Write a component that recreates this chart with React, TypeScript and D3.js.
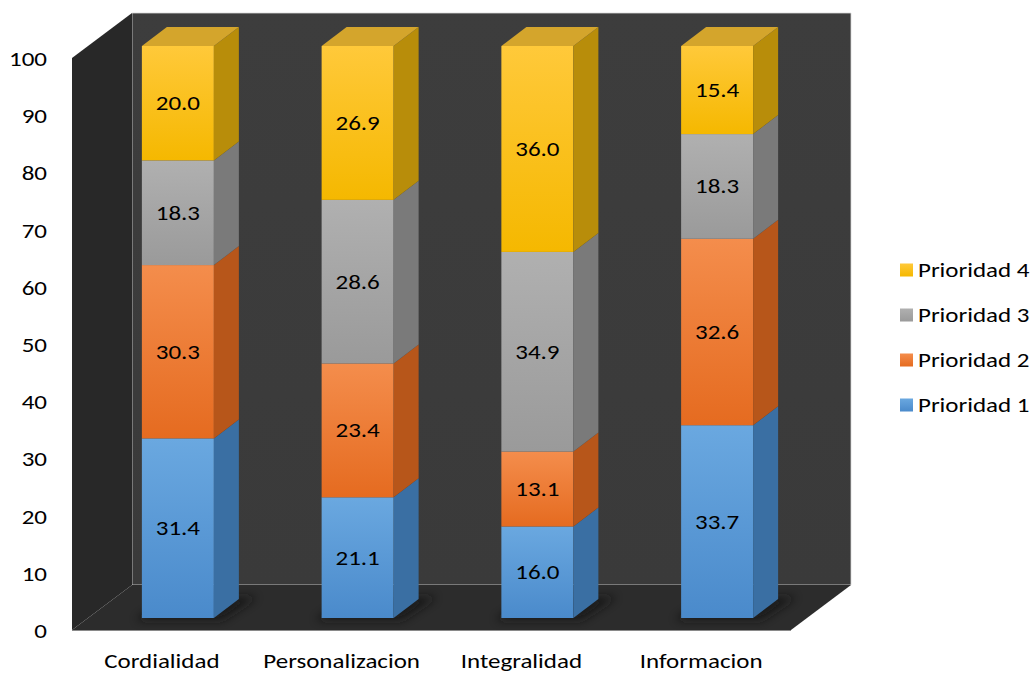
import React from "react";
import * as d3 from "d3";

const categories = ["Cordialidad", "Personalizacion", "Integralidad", "Informacion"];
const seriesNames = ["Prioridad 1", "Prioridad 2", "Prioridad 3", "Prioridad 4"];
const prioridad1 = [31.4, 21.1, 16.0, 33.7];
const prioridad2 = [30.3, 23.4, 13.1, 32.6];
const prioridad3 = [18.3, 28.6, 34.9, 18.3];
const prioridad4 = [20.0, 26.9, 36.0, 15.4];
const yTicks = [0, 10, 20, 30, 40, 50, 60, 70, 80, 90, 100];

const seriesValues = [prioridad1, prioridad2, prioridad3, prioridad4];

const palette = [
  { front0: "#6aa8e0", front1: "#4a8acb", side: "#3a6fa3", top: "#5a8fc4" },
  { front0: "#f48d4c", front1: "#e56b20", side: "#b7561a", top: "#d9783a" },
  { front0: "#b0b0b0", front1: "#9a9a9a", side: "#7a7a7a", top: "#a0a0a0" },
  { front0: "#ffc93a", front1: "#f5b800", side: "#b88d0a", top: "#d4a52c" },
];

const FONT = "Carlito, Lato, 'Open Sans', sans-serif";
const FS = 20;
const SX = 1.25;

function Txt({ x, y, anchor = "middle", baseline = "central", children }: any) {
  return (
    <text
      transform={`translate(${x},${y}) scale(${SX},1)`}
      textAnchor={anchor}
      dominantBaseline={baseline}
      fontFamily={FONT}
      fontSize={FS}
      fill="#000"
    >
      {children}
    </text>
  );
}

export default function App() {
  const W = 1031, H = 675;
  const frontLeft = 72, frontRight = 791;
  const wallDX = 60, wallDY = -45;
  const barOffX = 16, barOffY = -12;
  const barDX = 25, barDY = -19;

  const y = d3.scaleLinear().domain([0, 100]).range([630, 58]);
  const x = d3.scaleBand().domain(categories).range([frontLeft, frontRight]).paddingInner(0).paddingOuter(0);
  const barW = 72;

  const stack = d3.stack<any>().keys(seriesNames)(
    categories.map((c, i) => {
      const o: any = { cat: c };
      seriesNames.forEach((s, k) => (o[s] = seriesValues[k][i]));
      return o;
    })
  );

  const y0 = y(0), y100 = y(100);
  const poly = (pts: number[][]) => pts.map((p) => p.join(",")).join(" ");

  return (
    <svg width={W} height={H} style={{ position: "absolute", left: 0, top: 0, display: "block" }}>
      <defs>
        {palette.map((p, k) => (
          <linearGradient key={k} id={`g${k}`} x1="0" y1="0" x2="0" y2="1">
            <stop offset="0" stopColor={p.front0} />
            <stop offset="1" stopColor={p.front1} />
          </linearGradient>
        ))}
        <linearGradient id="backwall" x1="0" y1="0" x2="0" y2="1">
          <stop offset="0" stopColor="#3d3d3d" />
          <stop offset="1" stopColor="#3a3a3a" />
        </linearGradient>
        <filter id="blur" x="-50%" y="-50%" width="200%" height="200%">
          <feGaussianBlur stdDeviation="5" />
        </filter>
      </defs>
      <rect width={W} height={H} fill="#ffffff" />
      {/* back wall */}
      <polygon
        points={poly([
          [frontLeft + wallDX, y100 + wallDY],
          [frontRight + wallDX, y100 + wallDY],
          [frontRight + wallDX, y0 + wallDY],
          [frontLeft + wallDX, y0 + wallDY],
        ])}
        fill="url(#backwall)"
        stroke="#d8d8d8"
        strokeWidth={0.8}
      />
      {/* left wall */}
      <polygon
        points={poly([
          [frontLeft, y100],
          [frontLeft + wallDX, y100 + wallDY],
          [frontLeft + wallDX, y0 + wallDY],
          [frontLeft, y0],
        ])}
        fill="#282828"
      />
      {/* floor */}
      <polygon
        points={poly([
          [frontLeft, y0],
          [frontLeft + wallDX, y0 + wallDY],
          [frontRight + wallDX, y0 + wallDY],
          [frontRight, y0],
        ])}
        fill="#2c2c2c"
      />
      <line x1={frontLeft} x2={frontRight} y1={y0 + 0.5} y2={y0 + 0.5} stroke="#8a8a8a" strokeWidth={1.2} />

      {/* shadows */}
      {categories.map((c) => {
        const bx = (x(c) as number) + x.bandwidth() / 2 - barW / 2 + barOffX;
        const by = y0 + barOffY;
        return (
          <polygon
            key={"sh" + c}
            points={poly([
              [bx - 6, by + 2],
              [bx + barW + 8, by + 2],
              [bx + barW + barDX + 18, by + barDY - 2],
              [bx + barDX + 4, by + barDY - 2],
            ])}
            fill="#141414"
            opacity={0.8}
            filter="url(#blur)"
          />
        );
      })}

      {/* bars */}
      {categories.map((c, i) => {
        const bx = (x(c) as number) + x.bandwidth() / 2 - barW / 2 + barOffX;
        return (
          <g key={c}>
            {stack.map((s, k) => {
              const d = s[i];
              const yt = y(d[1]) + barOffY;
              const yb = y(d[0]) + barOffY;
              const p = palette[k];
              const isTop = k === stack.length - 1;
              return (
                <g key={k}>
                  <rect x={bx} y={yt} width={barW} height={yb - yt} fill={`url(#g${k})`} />
                  <polygon
                    points={poly([
                      [bx + barW, yt],
                      [bx + barW + barDX, yt + barDY],
                      [bx + barW + barDX, yb + barDY],
                      [bx + barW, yb],
                    ])}
                    fill={p.side}
                  />
                  {isTop && (
                    <polygon
                      points={poly([
                        [bx, yt],
                        [bx + barDX, yt + barDY],
                        [bx + barW + barDX, yt + barDY],
                        [bx + barW, yt],
                      ])}
                      fill={p.top}
                    />
                  )}
                  <Txt x={bx + barW / 2} y={(yt + yb) / 2}>
                    {seriesValues[k][i].toFixed(1)}
                  </Txt>
                </g>
              );
            })}
          </g>
        );
      })}

      {/* y axis labels */}
      {yTicks.map((t) => (
        <Txt key={t} x={47} y={y(t) + 1} anchor="end">
          {t}
        </Txt>
      ))}

      {/* category labels */}
      {categories.map((c) => (
        <Txt key={c} x={(x(c) as number) + x.bandwidth() / 2} y={668} baseline="alphabetic">
          {c}
        </Txt>
      ))}

      {/* legend */}
      {[3, 2, 1, 0].map((k, r) => {
        const ly = 270 + r * 45;
        return (
          <g key={k}>
            <rect x={900} y={ly - 6.5} width={13} height={13} fill={`url(#g${k})`} />
            <Txt x={918} y={ly} anchor="start">
              {seriesNames[k]}
            </Txt>
          </g>
        );
      })}
    </svg>
  );
}
